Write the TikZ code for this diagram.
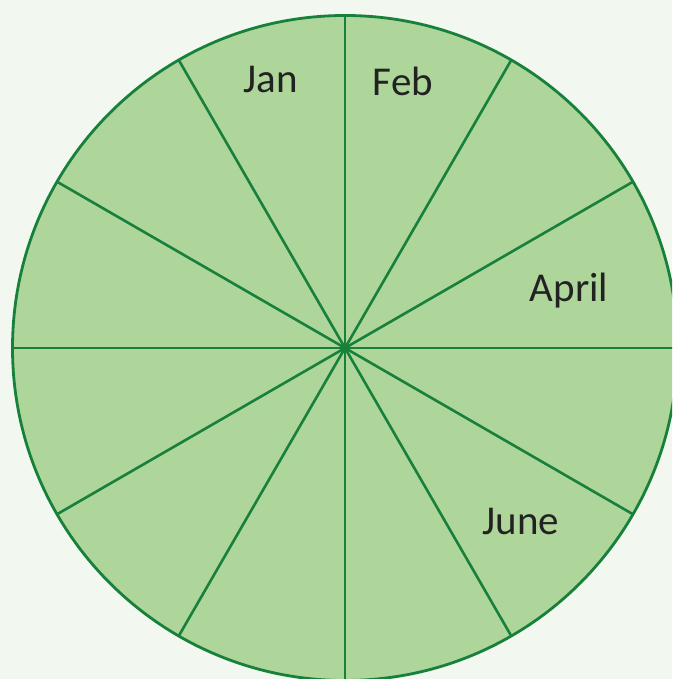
\documentclass[tikz,border=0pt]{standalone}
\usepackage{fontspec}
\setmainfont{Carlito}
\definecolor{bgc}{HTML}{F2F7EF}
\definecolor{fillc}{HTML}{AED59A}
\definecolor{linec}{HTML}{17803A}
\definecolor{textc}{HTML}{222222}
\begin{document}
\begin{tikzpicture}[x=1pt,y=1pt,
  wheel/.style={draw=linec, line width=2.8pt, fill=fillc},
  spoke/.style={draw=linec, line width=2.6pt},
  month/.style={font=\fontsize{41}{41}\selectfont, text=textc, anchor=base, inner sep=0pt}]
\fill[bgc] (0,0) rectangle (672,679);
\useasboundingbox (0,0) rectangle (672,679);
\coordinate (c) at (345,331);
\begin{scope}
\clip (0,0) rectangle (672,679);
\draw[wheel] (c) circle (332.5);
\foreach \a in {0,30,...,330}{
  \draw[spoke] (c) -- ++(\a:332.5);
}
\end{scope}
\node[month] (jan) at (271,586) {Jan};
\node[month] (feb) at (403,583) {Feb};
\node[month] (apr) at (569,377) {April};
\node[month] (jun) at (521,144) {June};
\end{tikzpicture}
\end{document}
